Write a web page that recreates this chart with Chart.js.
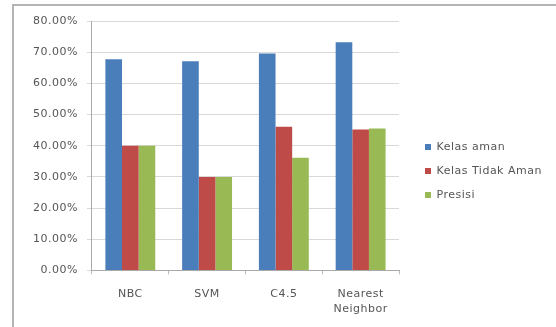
<!DOCTYPE html>
<html>
<head>
<meta charset="utf-8">
<script src="https://cdn.jsdelivr.net/npm/chart.js@4/dist/chart.umd.min.js"></script>
<style>
  html, body { margin: 0; padding: 0; background: #fff; }
  #wrap { position: relative; width: 556px; height: 327px; overflow: hidden; }
  #frame { position: absolute; left: 12px; top: 4px; width: 600px; height: 400px;
           border-left: 2px solid #b4b4b4; border-top: 2px solid #b4b4b4; }
  canvas { position: absolute; left: 0; top: 0; }
</style>
</head>
<body>
<div id="wrap">
  <div id="frame"></div>
  <canvas id="chart" width="556" height="327"></canvas>
</div>
<script>
const categories = ["NBC", "SVM", "C4.5", ["Nearest", "Neighbor"]];
const kelasAman = [67.7, 67.1, 69.6, 73.2];
const kelasTidakAman = [40.0, 30.0, 46.1, 45.2];
const presisi = [40.0, 30.0, 36.1, 45.5];

Chart.defaults.font.family = "DejaVu Sans";
Chart.defaults.font.size = 11;
Chart.defaults.color = "#555";

// the reference text is stretched sideways, so space the letters a bit
const wideText = {
  id: "wideText",
  beforeLayout(chart) { chart.ctx.letterSpacing = "0.5px"; },
  beforeDraw(chart) { chart.ctx.letterSpacing = "0.5px"; },
  // move the legend a little right and up from its slot
  afterLayout(chart) {
    const lg = chart.legend;
    lg.left += 13;
    lg.right = chart.width;
    lg.width = lg.right - lg.left;
    lg.top -= 4;
    lg.bottom -= 4;
  }
};

new Chart(document.getElementById("chart").getContext("2d"), {
  type: "bar",
  data: {
    labels: categories,
    datasets: [
      { label: "Kelas aman", data: kelasAman, backgroundColor: "#4a7ebb" },
      { label: "Kelas Tidak Aman", data: kelasTidakAman, backgroundColor: "#be4b48" },
      { label: "Presisi", data: presisi, backgroundColor: "#98b954" }
    ]
  },
  options: {
    responsive: false,
    animation: false,
    datasets: { bar: { barPercentage: 1, categoryPercentage: 0.65 } },
    layout: { padding: { left: 24, top: 21, right: 32, bottom: -2 } },
    plugins: {
      tooltip: { enabled: false },
      legend: {
        position: "right",
        labels: { boxWidth: 6, boxHeight: 6, padding: 13 }
      }
    },
    scales: {
      x: {
        grid: { display: true, drawOnChartArea: false, offset: true, tickLength: 4, color: "#bbb" },
        border: { color: "#aaa" },
        ticks: { padding: 13, font: { lineHeight: 1.3 } }
      },
      y: {
        min: 0, max: 80,
        ticks: { stepSize: 10, padding: 9, callback: v => v.toFixed(2) + "%" },
        grid: { color: "#d9d9d9", tickLength: 5 },
        border: { color: "#aaa" }
      }
    }
  },
  plugins: [wideText]
});
</script>
</body>
</html>
